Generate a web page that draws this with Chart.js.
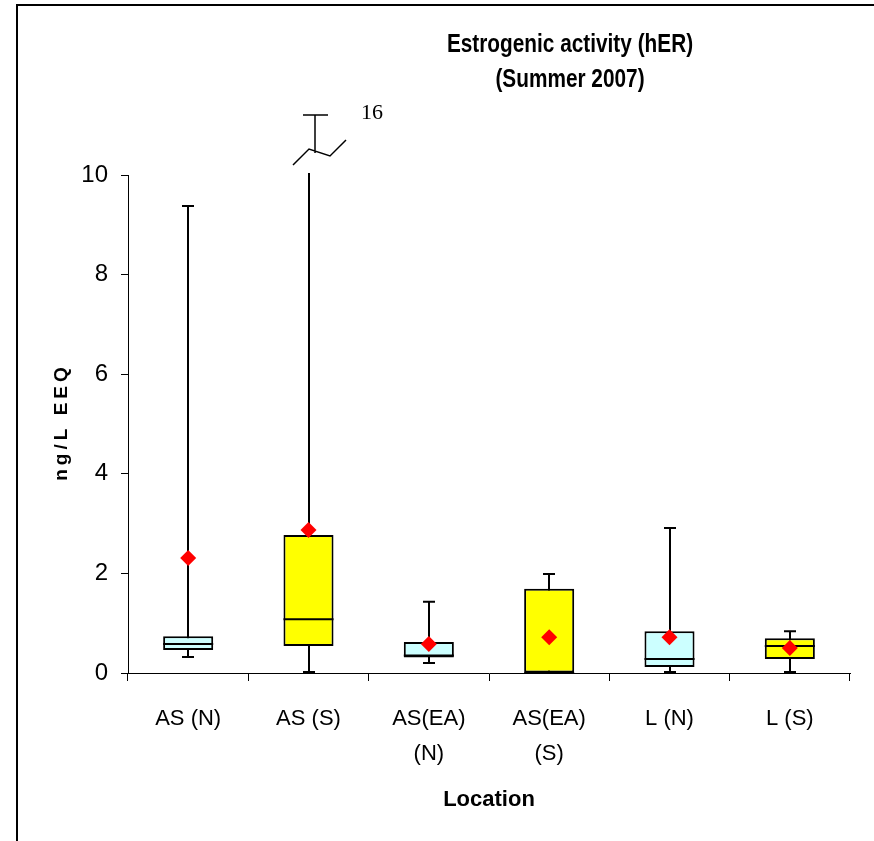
<!DOCTYPE html>
<html lang="en">
<head>
<meta charset="UTF-8" />
<title>Estrogenic activity (hER)</title>
<script src="https://cdn.jsdelivr.net/npm/chart.js"></script>
<style>
  html, body { margin: 0; padding: 0; background: #ffffff; }
  #wrap { width: 874px; height: 841px; }
</style>
</head>
<body>
<div id="wrap"><canvas id="chart" width="874" height="841"></canvas></div>
<script>
// box plot data (ng/L EEQ)
const locations = [['AS (N)'], ['AS (S)'], ['AS(EA)', '(N)'], ['AS(EA)', '(S)'], ['L (N)'], ['L (S)']];
const mins    = [0.32, 0.02, 0.20, 0.00, 0.02, 0.02];
const q1      = [0.46, 0.54, 0.31, 0.00, 0.12, 0.28];
const medians = [0.58, 1.08, 0.35, 0.00, 0.28, 0.54];
const q3      = [0.74, 2.77, 0.62, 1.69, 0.84, 0.70];
const maxs    = [9.38, 16, 1.43, 1.99, 2.91, 0.84];
const means   = [2.31, 2.87, 0.58, 0.72, 0.72, 0.50];
const boxColors = ['#ccffff', '#ffff00', '#ccffff', '#ffff00', '#ccffff', '#ffff00'];
const yTicks = [0, 2, 4, 6, 8, 10];

const SANS = "'Liberation Sans', Arial, sans-serif";

// whiskers, medians, frame and titles
const boxPlot = {
  id: 'boxPlot',
  beforeDraw(chart) {
    const ctx = chart.ctx;
    ctx.save();
    ctx.strokeStyle = '#000';
    ctx.lineWidth = 2;
    ctx.beginPath();
    ctx.moveTo(17, chart.height);
    ctx.lineTo(17, 5);
    ctx.lineTo(chart.width, 5);
    ctx.stroke();
    ctx.restore();
  },
  beforeDatasetsDraw(chart) {
    const {ctx, chartArea, scales: {x, y}} = chart;
    const top = y.max;
    ctx.save();
    ctx.strokeStyle = '#000';
    ctx.lineWidth = 2;
    locations.forEach((_, i) => {
      const px = Math.round(x.getPixelForValue(i));
      const lo = y.getPixelForValue(mins[i]);
      ctx.beginPath();
      ctx.moveTo(px - 6, lo); ctx.lineTo(px + 6, lo);
      if (maxs[i] <= top) {
        const hi = y.getPixelForValue(maxs[i]);
        ctx.moveTo(px, lo); ctx.lineTo(px, hi);
        ctx.moveTo(px - 6, hi); ctx.lineTo(px + 6, hi);
        ctx.stroke();
      } else {
        // broken whisker above the axis
        const t = chartArea.top;
        ctx.moveTo(px, lo); ctx.lineTo(px, t - 2);
        ctx.stroke();
        ctx.lineWidth = 1.5;
        ctx.beginPath();
        ctx.moveTo(px - 16, t - 10);
        ctx.lineTo(px, t - 26);
        ctx.lineTo(px + 21, t - 19);
        ctx.lineTo(px + 37, t - 35);
        ctx.moveTo(px + 6, t - 22); ctx.lineTo(px + 6, t - 60);
        ctx.moveTo(px - 6, t - 60); ctx.lineTo(px + 19, t - 60);
        ctx.stroke();
        ctx.fillStyle = '#000';
        ctx.font = "22px 'Liberation Serif', 'Times New Roman', serif";
        ctx.textAlign = 'left';
        ctx.textBaseline = 'middle';
        ctx.fillText(String(maxs[i]), px + 52, t - 62);
        ctx.lineWidth = 2;
      }
    });
    ctx.restore();
  },
  afterDatasetDraw(chart, args) {
    if (args.index !== 0) return;
    const {ctx, scales: {x, y}} = chart;
    const half = chart.getDatasetMeta(0).data[0].width / 2;
    ctx.save();
    ctx.strokeStyle = '#000';
    ctx.lineWidth = 2;
    locations.forEach((_, i) => {
      const px = x.getPixelForValue(i);
      const py = y.getPixelForValue(medians[i]);
      ctx.beginPath();
      ctx.moveTo(px - half, py); ctx.lineTo(px + half, py);
      ctx.stroke();
    });
    ctx.restore();
  },
  afterDraw(chart) {
    const ctx = chart.ctx;
    ctx.save();
    ctx.fillStyle = '#000';
    ctx.textAlign = 'center';
    ctx.textBaseline = 'middle';
    // condensed bold title
    ctx.save();
    ctx.translate(570, 0);
    ctx.scale(0.8, 1);
    ctx.font = 'bold 26px ' + SANS;
    ctx.fillText('Estrogenic activity (hER)', 0, 45);
    ctx.fillText('(Summer 2007)', 0, 80);
    ctx.restore();
    ctx.translate(62, 424);
    ctx.rotate(-Math.PI / 2);
    ctx.font = 'bold 19px ' + SANS;
    ctx.letterSpacing = '4px';
    ctx.fillText('ng/L EEQ', 2, 0);
    ctx.restore();
  }
};

new Chart(document.getElementById('chart'), {
  type: 'bar',
  data: {
    labels: locations,
    datasets: [
      {
        label: 'Box',
        data: q1.map((v, i) => [v, q3[i]]),
        backgroundColor: boxColors,
        borderColor: '#000',
        borderWidth: 2,
        borderSkipped: false,
        barPercentage: 0.416,
        categoryPercentage: 1,
        order: 1
      },
      {
        type: 'line',
        label: 'Mean',
        data: means,
        showLine: false,
        pointStyle: 'rectRot',
        pointRadius: 8,
        pointHoverRadius: 8,
        pointBackgroundColor: '#ff0000',
        pointBorderWidth: 0,
        order: 0
      }
    ]
  },
  options: {
    responsive: false,
    animation: false,
    events: [],
    layout: { padding: { left: 0, top: 175, right: 24, bottom: 18 } },
    plugins: {
      legend: { display: false },
      tooltip: { enabled: false },
      title: { display: false }
    },
    scales: {
      x: {
        offset: true,
        afterFit(scale) { scale.height = 150; },
        grid: { offset: true, drawOnChartArea: false, tickLength: 8, color: '#000' },
        border: { color: '#000', width: 1 },
        ticks: { color: '#000', padding: 20, font: { family: SANS, size: 22, lineHeight: 1.6 } },
        title: {
          display: true, text: 'Location', color: '#000',
          padding: { top: 0, bottom: 10 },
          font: { family: SANS, size: 22, weight: 'bold' }
        }
      },
      y: {
        min: 0,
        max: 10,
        afterFit(scale) { scale.width = 128; },
        afterBuildTicks(scale) { scale.ticks = yTicks.map(v => ({ value: v })); },
        grid: { drawOnChartArea: false, tickLength: 7, color: '#000' },
        border: { color: '#000', width: 1 },
        ticks: { color: '#000', padding: 13, font: { family: SANS, size: 24 } }
      }
    }
  },
  plugins: [boxPlot]
});
</script>
</body>
</html>
